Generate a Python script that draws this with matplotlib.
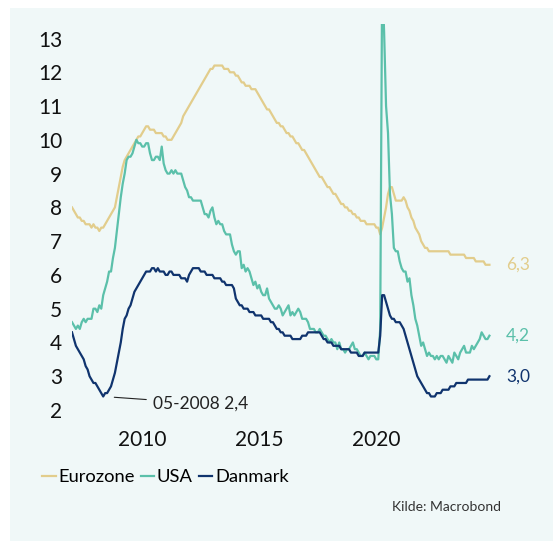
import numpy as np
import matplotlib
matplotlib.use('Agg')
import matplotlib.pyplot as plt
from matplotlib.patches import Rectangle

plt.rcParams['font.family'] = ['Lato', 'DejaVu Sans']

# monthly data, Jan 2007 - Nov 2024
eurozone = [
    8.0, 7.9, 7.8, 7.7, 7.7, 7.6, 7.6, 7.5, 7.5, 7.5, 7.4, 7.5,
    7.4, 7.4, 7.3, 7.4, 7.4, 7.5, 7.6, 7.7, 7.8, 7.9, 8.0, 8.3,
    8.6, 8.9, 9.2, 9.4, 9.5, 9.6, 9.7, 9.8, 9.9, 10.0, 10.1, 10.1,
    10.2, 10.3, 10.4, 10.4, 10.3, 10.3, 10.3, 10.2, 10.2, 10.2, 10.2, 10.1,
    10.1, 10.0, 10.0, 10.0, 10.1, 10.2, 10.3, 10.4, 10.5, 10.7, 10.8, 10.9,
    11.0, 11.1, 11.2, 11.3, 11.4, 11.5, 11.6, 11.7, 11.8, 11.9, 12.0, 12.1,
    12.1, 12.2, 12.2, 12.2, 12.2, 12.2, 12.1, 12.1, 12.1, 12.0, 12.0, 12.0,
    11.9, 11.9, 11.8, 11.7, 11.7, 11.6, 11.6, 11.6, 11.5, 11.5, 11.5, 11.4,
    11.3, 11.2, 11.1, 11.0, 10.9, 10.9, 10.8, 10.7, 10.6, 10.5, 10.5, 10.4,
    10.4, 10.3, 10.2, 10.2, 10.1, 10.1, 10.0, 9.9, 9.9, 9.8, 9.7, 9.7,
    9.6, 9.5, 9.4, 9.3, 9.2, 9.1, 9.0, 8.9, 8.9, 8.8, 8.7, 8.6,
    8.6, 8.5, 8.4, 8.4, 8.3, 8.2, 8.1, 8.1, 8.0, 8.0, 7.9, 7.9,
    7.8, 7.8, 7.7, 7.7, 7.6, 7.6, 7.6, 7.5, 7.5, 7.5, 7.5, 7.5,
    7.4, 7.4, 7.2, 7.4, 7.7, 8.0, 8.4, 8.6, 8.6, 8.4, 8.2, 8.2,
    8.2, 8.2, 8.3, 8.2, 8.0, 7.9, 7.7, 7.6, 7.4, 7.3, 7.2, 7.0,
    6.9, 6.8, 6.8, 6.7, 6.7, 6.7, 6.7, 6.7, 6.7, 6.7, 6.7, 6.7,
    6.7, 6.7, 6.6, 6.6, 6.6, 6.6, 6.6, 6.6, 6.6, 6.6, 6.5, 6.5,
    6.5, 6.5, 6.5, 6.4, 6.4, 6.4, 6.4, 6.4, 6.3, 6.3, 6.3,
]
usa = [
    4.6, 4.5, 4.4, 4.5, 4.4, 4.6, 4.7, 4.6, 4.7, 4.7, 4.7, 5.0,
    5.0, 4.9, 5.1, 5.0, 5.4, 5.6, 5.8, 6.1, 6.1, 6.5, 6.8, 7.3,
    7.8, 8.3, 8.7, 9.0, 9.4, 9.5, 9.5, 9.6, 9.8, 10.0, 9.9, 9.9,
    9.8, 9.8, 9.9, 9.9, 9.6, 9.4, 9.4, 9.5, 9.5, 9.4, 9.8, 9.3,
    9.1, 9.0, 9.0, 9.1, 9.0, 9.1, 9.0, 9.0, 9.0, 8.8, 8.6, 8.5,
    8.3, 8.3, 8.2, 8.2, 8.2, 8.2, 8.2, 8.0, 7.8, 7.8, 7.7, 7.9,
    8.0, 7.7, 7.5, 7.6, 7.5, 7.5, 7.3, 7.2, 7.2, 7.2, 6.9, 6.7,
    6.6, 6.7, 6.7, 6.2, 6.3, 6.1, 6.2, 6.1, 5.9, 5.7, 5.8, 5.6,
    5.7, 5.5, 5.4, 5.4, 5.6, 5.3, 5.2, 5.1, 5.0, 5.0, 5.1, 5.0,
    4.8, 4.9, 5.0, 5.1, 4.8, 4.9, 4.8, 4.9, 5.0, 4.9, 4.7, 4.7,
    4.7, 4.6, 4.4, 4.4, 4.4, 4.3, 4.3, 4.4, 4.3, 4.2, 4.2, 4.1,
    4.0, 4.1, 4.0, 4.0, 3.8, 4.0, 3.8, 3.8, 3.7, 3.8, 3.8, 3.9,
    4.0, 3.8, 3.8, 3.7, 3.6, 3.6, 3.7, 3.6, 3.5, 3.6, 3.6, 3.6,
    3.5, 3.5, 4.4, 14.8, 13.2, 11.0, 10.2, 8.4, 7.8, 6.8, 6.7, 6.7,
    6.4, 6.2, 6.1, 6.1, 5.8, 5.9, 5.4, 5.1, 4.7, 4.5, 4.2, 3.9,
    4.0, 3.8, 3.6, 3.7, 3.6, 3.6, 3.5, 3.6, 3.5, 3.6, 3.6, 3.5,
    3.4, 3.6, 3.5, 3.4, 3.7, 3.6, 3.5, 3.7, 3.8, 3.9, 3.7, 3.7,
    3.7, 3.9, 3.8, 3.9, 4.0, 4.1, 4.3, 4.2, 4.1, 4.1, 4.2,
]
danmark = [
    4.3, 4.1, 3.9, 3.8, 3.7, 3.6, 3.5, 3.3, 3.2, 3.0, 2.9, 2.8,
    2.8, 2.7, 2.6, 2.5, 2.4, 2.5, 2.5, 2.6, 2.7, 2.9, 3.1, 3.4,
    3.7, 4.0, 4.4, 4.7, 4.8, 5.0, 5.1, 5.3, 5.5, 5.6, 5.7, 5.8,
    5.9, 6.0, 6.1, 6.1, 6.1, 6.2, 6.2, 6.1, 6.2, 6.1, 6.1, 6.1,
    6.0, 6.0, 6.1, 6.1, 6.0, 6.0, 6.0, 6.0, 5.9, 5.9, 5.9, 5.8,
    6.0, 6.1, 6.2, 6.2, 6.2, 6.2, 6.1, 6.1, 6.1, 6.0, 6.0, 6.0,
    6.0, 5.9, 5.9, 5.9, 5.9, 5.8, 5.8, 5.7, 5.7, 5.7, 5.7, 5.6,
    5.3, 5.2, 5.1, 5.1, 5.0, 5.0, 5.0, 4.9, 4.9, 4.9, 4.8, 4.8,
    4.8, 4.8, 4.7, 4.7, 4.7, 4.7, 4.6, 4.6, 4.5, 4.4, 4.4, 4.3,
    4.3, 4.2, 4.2, 4.2, 4.2, 4.1, 4.1, 4.1, 4.1, 4.1, 4.2, 4.2,
    4.2, 4.3, 4.3, 4.3, 4.3, 4.3, 4.3, 4.3, 4.2, 4.1, 4.1, 4.0,
    4.0, 4.0, 3.9, 3.9, 3.9, 3.9, 3.8, 3.8, 3.8, 3.8, 3.8, 3.7,
    3.7, 3.7, 3.7, 3.6, 3.6, 3.6, 3.7, 3.7, 3.7, 3.7, 3.7, 3.7,
    3.7, 3.7, 4.2, 5.4, 5.4, 5.2, 5.0, 4.8, 4.7, 4.7, 4.6, 4.6,
    4.6, 4.5, 4.4, 4.2, 4.0, 3.8, 3.6, 3.4, 3.2, 3.0, 2.9, 2.8,
    2.7, 2.6, 2.5, 2.5, 2.4, 2.4, 2.4, 2.5, 2.5, 2.5, 2.6, 2.6,
    2.6, 2.6, 2.7, 2.7, 2.7, 2.8, 2.8, 2.8, 2.8, 2.8, 2.8, 2.9,
    2.9, 2.9, 2.9, 2.9, 2.9, 2.9, 2.9, 2.9, 2.9, 2.9, 3.0,
]
start_year = 2007
labels = ['Eurozone', 'USA', 'Danmark']
end_labels = ['6,3', '4,2', '3,0']
colors = ['#E2CD8C', '#5BC0AA', '#10346E']
year_ticks = [2010, 2015, 2020]
y_ticks = list(range(2, 14))

t = start_year + np.arange(len(usa)) / 12.0

fig = plt.figure(figsize=(5.53, 5.41), dpi=100)
fig.patches.append(Rectangle((10 / 553, 0), 1, 1 - 8 / 541, transform=fig.transFigure,
                             facecolor='#F0F8F8', edgecolor='none', zorder=-10))

ax = fig.add_axes([72 / 553, (541 - 423.5) / 541, (491 - 72) / 553, (423.5 - 24) / 541])
ax.patch.set_visible(False)

for series, lab, col, end in zip([eurozone, usa, danmark], labels, colors, end_labels):
    ax.plot(t, series, color=col, lw=1.6, label=lab)
    ax.annotate(end, xy=(t[-1], series[-1]), xytext=(12, 0), textcoords='offset points',
                ha='left', va='center', color=col, fontsize=12.5)

# min label for Danmark
i_min = int(np.argmin(danmark))
ax.annotate('05-2008 2,4', xy=(t[i_min], danmark[i_min]), xytext=(36, -5),
            textcoords='offset points', ha='left', va='center', fontsize=12.5, color='#222222',
            arrowprops=dict(arrowstyle='-', lw=0.8, color='#222222', shrinkA=3, shrinkB=8))

ax.set_xlim(start_year, 2024.9)
ax.set_ylim(1.6, 13.43)
ax.set_xticks(year_ticks)
ax.set_xticklabels([str(y) for y in year_ticks])
ax.set_yticks(y_ticks)
ax.tick_params(axis='both', length=0, labelsize=15, colors='#111111')
ax.tick_params(axis='y', pad=7)
ax.tick_params(axis='x', pad=5)
for s in ax.spines.values():
    s.set_visible(False)

fig.legend(loc='center left', bbox_to_anchor=(42 / 553, 1 - 477 / 541), ncol=3, frameon=False,
           fontsize=13.2, handlelength=0.75, handletextpad=0.15, columnspacing=0.3,
           borderpad=0, borderaxespad=0)

fig.text(501 / 553, 1 - 507 / 541, 'Kilde: Macrobond', ha='right', va='center',
         fontsize=10, color='#333333')

fig.savefig('out.png', dpi=100)
